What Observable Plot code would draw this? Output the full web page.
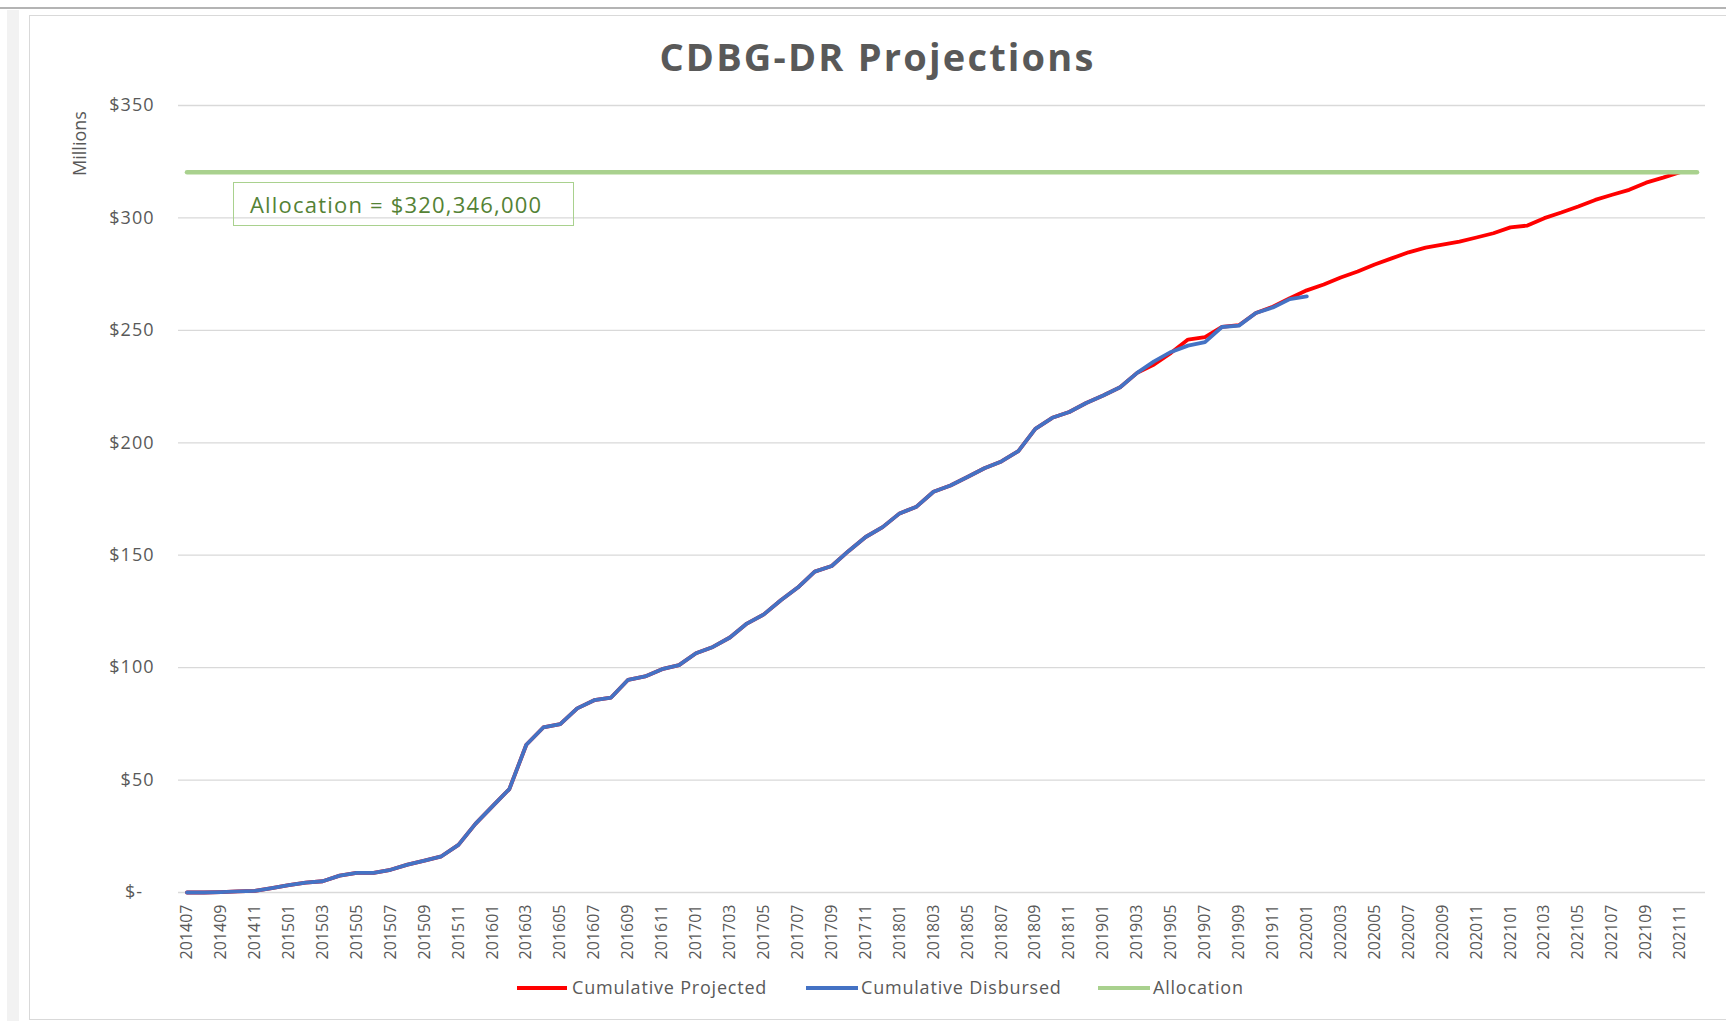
<!DOCTYPE html>
<html>
<head>
<meta charset="utf-8">
<script src="https://cdn.jsdelivr.net/npm/d3@7"></script>
<script src="https://cdn.jsdelivr.net/npm/@observablehq/plot@0.6"></script>
<style>
  html, body { margin: 0; padding: 0; background: #fff; }
  body { width: 1726px; height: 1021px; position: relative; overflow: hidden; font-family: "Open Sans", sans-serif; }
  #topline { position: absolute; left: 0; top: 7px; width: 1726px; height: 2px; background: #b4b4b4; }
  #strip { position: absolute; left: 7px; top: 10px; width: 12px; height: 1011px; background: #f2f2f2; }
  #frame { position: absolute; left: 29px; top: 15px; width: 1710px; height: 1005px; border: 1px solid #d9d9d9; box-sizing: border-box; }
  #title { position: absolute; left: 29px; width: 1697px; top: 37px; text-align: center; font-weight: 700; font-size: 38px; line-height: 38px; color: #595959; letter-spacing: 2.2px; }
  #chart { position: absolute; left: 0; top: 80px; }
  #note { position: absolute; left: 233px; top: 182px; width: 341px; height: 44px; border: 1px solid #a9d18e; box-sizing: border-box; color: #548235; font-size: 22px; line-height: 42px; padding-left: 16px; letter-spacing: 1.2px; white-space: nowrap; }
  .lg { position: absolute; top: 977px; font-size: 18px; line-height: 21px; color: #595959; white-space: nowrap; letter-spacing: 0.8px; }
  .sw { position: absolute; top: 986px; height: 4px; }
  svg [aria-label="y-axis tick label"] text { letter-spacing: 1px; }
</style>
</head>
<body>
<div id="topline"></div>
<div id="strip"></div>
<div id="frame"></div>
<div id="title">CDBG-DR Projections</div>
<div id="chart"></div>
<div id="note"></div>
<div id="legend"></div>
<script>
// ---- data ----
const months = [
  "201407","201408","201409","201410","201411","201412",
  "201501","201502","201503","201504","201505","201506","201507","201508","201509","201510","201511","201512",
  "201601","201602","201603","201604","201605","201606","201607","201608","201609","201610","201611","201612",
  "201701","201702","201703","201704","201705","201706","201707","201708","201709","201710","201711","201712",
  "201801","201802","201803","201804","201805","201806","201807","201808","201809","201810","201811","201812",
  "201901","201902","201903","201904","201905","201906","201907","201908","201909","201910","201911","201912",
  "202001","202002","202003","202004","202005","202006","202007","202008","202009","202010","202011","202012",
  "202101","202102","202103","202104","202105","202106","202107","202108","202109","202110","202111","202112"
];
const xTickLabels = [
  "201407","201409","201411","201501","201503","201505","201507","201509","201511",
  "201601","201603","201605","201607","201609","201611","201701","201703","201705","201707","201709","201711",
  "201801","201803","201805","201807","201809","201811","201901","201903","201905","201907","201909","201911",
  "202001","202003","202005","202007","202009","202011","202101","202103","202105","202107","202109","202111"
];
const yTicks = [0, 50, 100, 150, 200, 250, 300, 350];
// values in $ millions
const cumulativeProjected = [
  0, 0, 0.2, 0.5, 0.7, 2.0, 3.3, 4.4, 5.0, 7.5, 8.7, 8.7, 10.1, 12.4, 14.2, 16.1, 21.2, 30.5, 38.3, 46.0,
  65.7, 73.4, 74.9, 81.9, 85.5, 86.7, 94.6, 96.1, 99.3, 101.1, 106.4, 109.2, 113.4, 119.6, 123.7, 130.0, 135.6, 142.7, 145.2, 151.9,
  158.1, 162.5, 168.6, 171.6, 178.2, 181.0, 184.8, 188.7, 191.7, 196.3, 206.2, 211.1, 213.7, 217.7, 221.0, 224.7, 231.1, 234.8, 240.0, 245.9,
  247.0, 251.5, 252.3, 257.7, 260.5, 264.3, 267.8, 270.4, 273.5, 276.2, 279.3, 282.0, 284.7, 286.8, 288.1, 289.5, 291.3, 293.2, 295.8, 296.6,
  299.9, 302.4, 305.1, 308.0, 310.3, 312.5, 315.7, 317.9, 320.3
];
const cumulativeDisbursed = [
  0, 0, 0.2, 0.5, 0.7, 2.0, 3.3, 4.4, 5.0, 7.5, 8.7, 8.7, 10.1, 12.4, 14.2, 16.1, 21.2, 30.5, 38.3, 46.0,
  65.7, 73.4, 74.9, 81.9, 85.5, 86.7, 94.6, 96.1, 99.3, 101.1, 106.4, 109.2, 113.4, 119.6, 123.7, 130.0, 135.6, 142.7, 145.2, 151.9,
  158.1, 162.5, 168.6, 171.6, 178.2, 181.0, 184.8, 188.7, 191.7, 196.3, 206.2, 211.1, 213.7, 217.7, 221.0, 224.7, 231.1, 236.2, 240.4, 243.2,
  244.8, 251.5, 252.1, 257.7, 260.2, 263.9, 265.1
];
const allocation = 320.346;
const seriesNames = ["Cumulative Projected", "Cumulative Disbursed", "Allocation"];
const seriesColors = ["#ff0000", "#4472c4", "#a9d18e"];
const noteText = "Allocation = $320,346,000";

// ---- tables ----
const projRows = cumulativeProjected.map((v, i) => ({month: months[i], value: v}));
const disbRows = cumulativeDisbursed.map((v, i) => ({month: months[i], value: v}));
const allocRows = months.map(m => ({month: m, value: allocation}));

const chart = Plot.plot({
  width: 1726,
  height: 900,
  marginTop: 25,
  marginBottom: 88,
  marginLeft: 178,
  marginRight: 21,
  style: {fontFamily: "'Open Sans', sans-serif", background: "transparent", overflow: "visible"},
  x: {type: "point", domain: months, padding: 0.5},
  y: {domain: [0, 350]},
  marks: [
    Plot.gridY(yTicks, {stroke: "#d9d9d9", strokeOpacity: 1, strokeWidth: 1.3}),
    Plot.axisY(yTicks, {
      tickSize: 0, tickPadding: 24, fontSize: 18, color: "#595959", label: null,
      tickFormat: d => d === 0 ? "$-\u00a0\u00a0" : "$" + d
    }),
    Plot.axisX(xTickLabels, {tickSize: 0, tickPadding: 12, tickRotate: -90, fontSize: 16, color: "#595959", label: null}),
    Plot.text(["Millions"], {
      text: d => d, frameAnchor: "top-left", dx: -98, dy: 38, rotate: -90,
      textAnchor: "middle", lineAnchor: "middle", fontSize: 18, fill: "#595959"
    }),
    Plot.lineY(projRows, {x: "month", y: "value", stroke: seriesColors[0], strokeWidth: 3.8, strokeLinejoin: "round"}),
    Plot.lineY(disbRows, {x: "month", y: "value", stroke: seriesColors[1], strokeWidth: 3.8, strokeLinejoin: "round"}),
    Plot.lineY(allocRows, {x: "month", y: "value", stroke: seriesColors[2], strokeWidth: 4.5})
  ]
});
document.getElementById("chart").appendChild(chart);
document.getElementById("note").textContent = noteText;

// legend
const legendPos = [{sw: 517, w: 50, tx: 572}, {sw: 806, w: 52, tx: 861}, {sw: 1098, w: 52, tx: 1153}];
const legend = document.getElementById("legend");
seriesNames.forEach((name, i) => {
  const sw = document.createElement("div");
  sw.className = "sw";
  sw.style.left = legendPos[i].sw + "px";
  sw.style.width = legendPos[i].w + "px";
  sw.style.background = seriesColors[i];
  legend.appendChild(sw);
  const t = document.createElement("div");
  t.className = "lg";
  t.style.left = legendPos[i].tx + "px";
  t.textContent = name;
  legend.appendChild(t);
});
</script>
</body>
</html>
